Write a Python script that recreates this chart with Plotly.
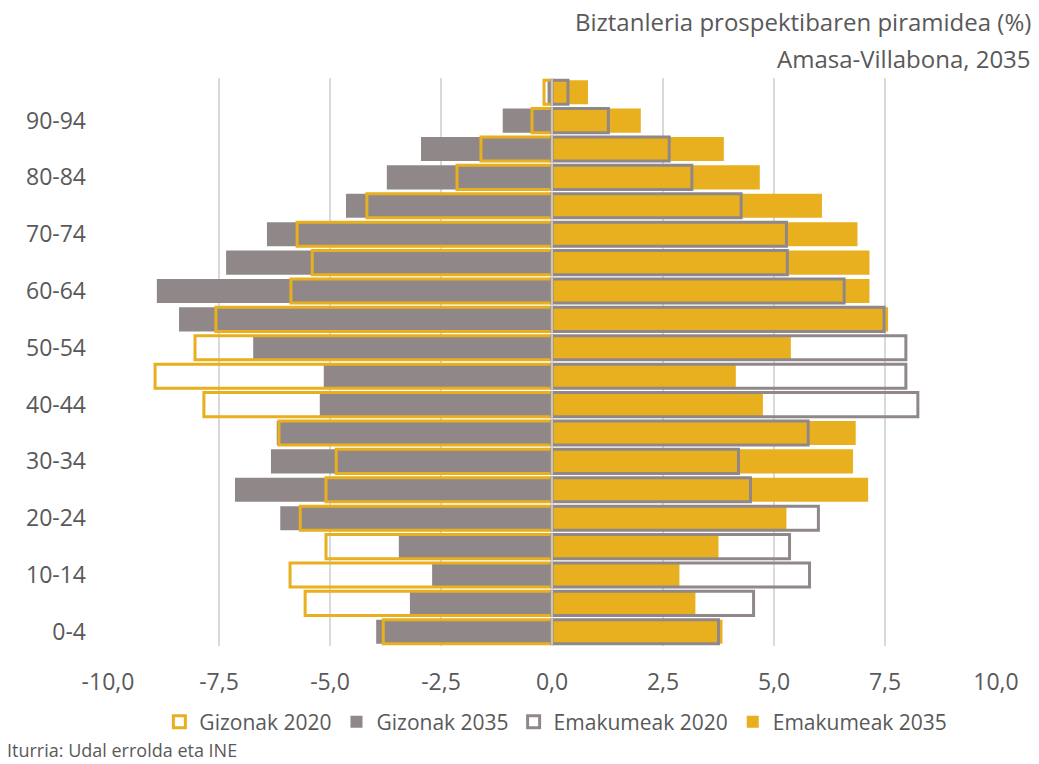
import plotly.graph_objects as go

ages = ["0-4", "5-9", "10-14", "15-19", "20-24", "25-29", "30-34", "35-39", "40-44", "45-49",
        "50-54", "55-59", "60-64", "65-69", "70-74", "75-79", "80-84", "85-89", "90-94", "95+"]

gizonak_2020 = [-3.80, -5.56, -5.90, -5.09, -5.67, -5.09, -4.86, -6.15, -7.84, -8.94,
                -8.04, -7.57, -5.88, -5.40, -5.74, -4.17, -2.14, -1.60, -0.45, -0.18]
gizonak_2035 = [-3.96, -3.20, -2.70, -3.45, -6.12, -7.14, -6.33, -6.20, -5.23, -5.14,
                -6.73, -8.40, -8.90, -7.34, -6.42, -4.64, -3.72, -2.95, -1.11, -0.10]
emakumeak_2020 = [3.75, 4.54, 5.80, 5.35, 6.00, 4.47, 4.20, 5.77, 8.24, 7.97,
                  7.97, 7.48, 6.58, 5.30, 5.28, 4.26, 3.15, 2.64, 1.27, 0.36]
emakumeak_2035 = [3.84, 3.23, 2.87, 3.75, 5.28, 7.12, 6.78, 6.84, 4.75, 4.14,
                  5.38, 7.57, 7.15, 7.15, 6.88, 6.08, 4.68, 3.87, 2.00, 0.81]

y_tick_labels = ["0-4", "10-14", "20-24", "30-34", "40-44", "50-54", "60-64", "70-74", "80-84", "90-94"]
x_ticks = [-10, -7.5, -5, -2.5, 0, 2.5, 5, 7.5, 10]
x_tick_labels = ["-10,0", "-7,5", "-5,0", "-2,5", "0,0", "2,5", "5,0", "7,5", "10,0"]

title_line1 = "Biztanleria prospektibaren piramidea (%)"
title_line2 = "Amasa-Villabona, 2035"
source_text = "Iturria: Udal errolda eta INE"

YELLOW = "#E8AF1E"
GRAY = "#908888"
TXT = "#595959"
BW = 0.85

fig = go.Figure()
fig.add_trace(go.Bar(y=ages, x=gizonak_2035, orientation="h", name="Gizonak 2035",
                     marker=dict(color=GRAY, line=dict(width=0)), width=BW, legendrank=2))
fig.add_trace(go.Bar(y=ages, x=emakumeak_2035, orientation="h", name="Emakumeak 2035",
                     marker=dict(color=YELLOW, line=dict(width=0)), width=BW, legendrank=4))
fig.add_trace(go.Bar(y=ages, x=gizonak_2020, orientation="h", name="Gizonak 2020",
                     marker=dict(color="rgba(255,255,255,0)", line=dict(color=YELLOW, width=3)),
                     width=BW, legendrank=1))
fig.add_trace(go.Bar(y=ages, x=emakumeak_2020, orientation="h", name="Emakumeak 2020",
                     marker=dict(color="rgba(255,255,255,0)", line=dict(color=GRAY, width=3)),
                     width=BW, legendrank=3))

fig.add_shape(type="line", xref="x", yref="paper", x0=0, x1=0, y0=0, y1=1,
              line=dict(color="#D9D9D9", width=1.5), layer="above")

fig.update_layout(
    width=1039, height=764,
    barmode="overlay",
    separators=",.",
    paper_bgcolor="white", plot_bgcolor="white",
    margin=dict(l=108, r=43, t=78, b=118, autoexpand=False),
    font=dict(family="Open Sans", color=TXT),
    showlegend=True,
    legend=dict(orientation="h", xref="container", yref="container", x=0.535, y=0.055,
                xanchor="center", yanchor="middle", font=dict(size=21, color=TXT),
                traceorder="normal", itemwidth=30),
    annotations=[
        dict(text=title_line1, xref="paper", yref="paper", x=1.0417, y=1.0986,
             xanchor="right", yanchor="middle", showarrow=False,
             font=dict(size=24, color=TXT)),
        dict(text=title_line2, xref="paper", yref="paper", x=1.0417, y=1.0352,
             xanchor="right", yanchor="middle", showarrow=False,
             font=dict(size=24, color=TXT)),
        dict(text=source_text, xref="paper", yref="paper", x=-0.116, y=-0.183,
             xanchor="left", yanchor="middle", showarrow=False,
             font=dict(size=18, color=TXT)),
    ],
)
fig.update_xaxes(range=[-10, 10], tickvals=x_ticks, ticktext=x_tick_labels,
                 showgrid=True, gridcolor="#D9D9D9", gridwidth=1.5, zeroline=False,
                 tickfont=dict(size=23, color=TXT), ticks="", showline=False,
                 automargin=False, ticklabelstandoff=20)
fig.update_yaxes(type="category", categoryorder="array", categoryarray=ages,
                 range=[-0.5, len(ages) - 0.5],
                 tickvals=y_tick_labels, ticktext=y_tick_labels, showgrid=False,
                 zeroline=False, tickfont=dict(size=23, color=TXT), ticks="",
                 automargin=False, ticklabelstandoff=21)

fig.write_html("out.html", config={"displayModeBar": False},
               post_script="document.body.style.margin='0';")
